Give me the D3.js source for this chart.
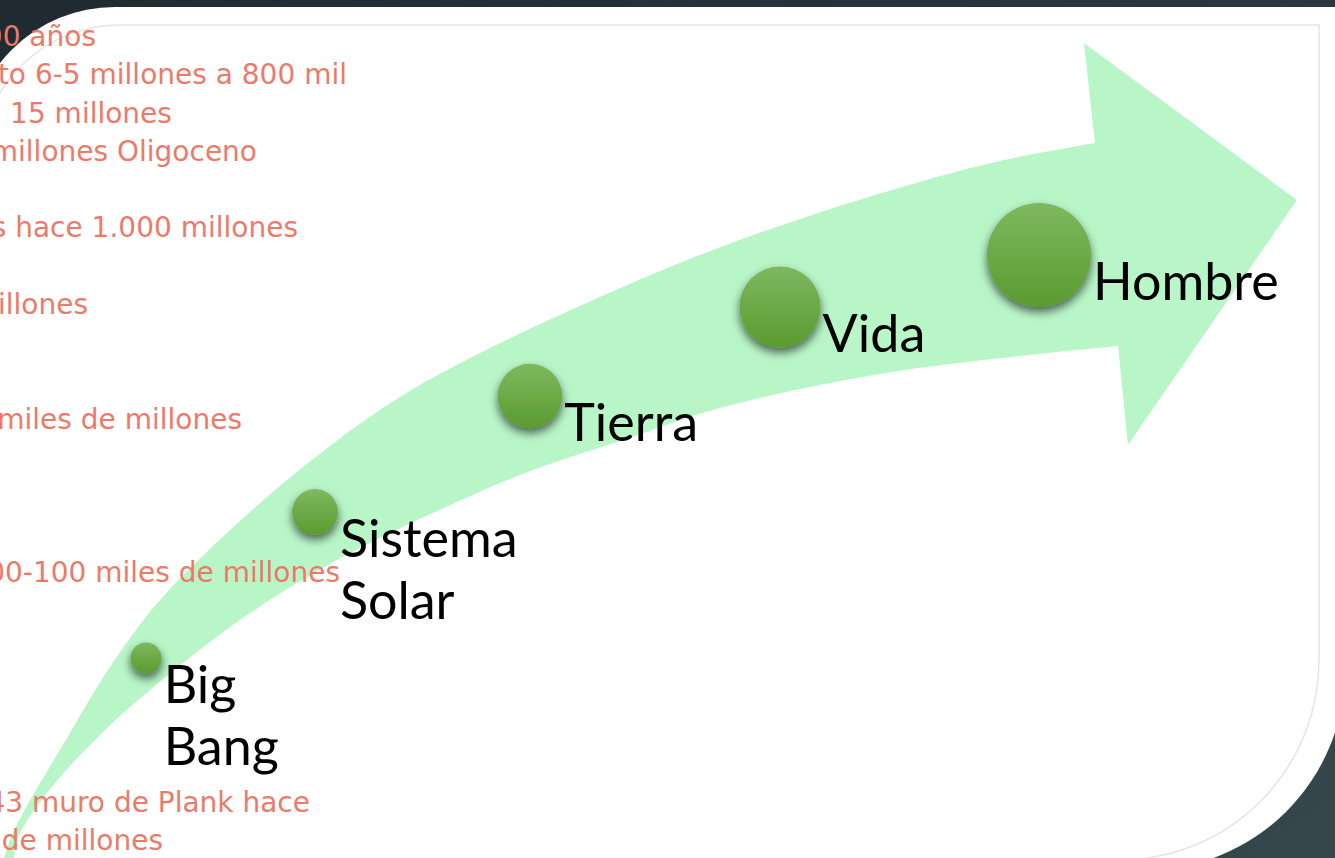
<!DOCTYPE html>
<html>
<head>
<meta charset="utf-8">
<script src="https://cdn.jsdelivr.net/npm/d3@7"></script>
<style>
  body { margin: 0; overflow: hidden; background: #242f37; }
  svg { display: block; }
</style>
</head>
<body>
<svg class="slide" width="1335" height="858"></svg>
<script>
// etapas del universo (circulos + etiquetas)
var etapas = ["Big Bang", "Sistema Solar", "Tierra", "Vida", "Hombre"];
var etapaX = [10.94, 23.6, 39.7, 58.43, 77.83];   // % del ancho
var etapaY = [23.31, 40.33, 53.85, 64.22, 70.28]; // % de la altura (desde abajo)
var etapaTam = [3.0, 4.4, 6.2, 7.8, 10];          // tamano relativo

// flecha curva: borde superior (cola -> muesca), punta, borde inferior (muesca -> cola)
var flechaSupX = [0.15, 0.97, 5.24, 8.24, 11.99, 18.73, 24.72, 29.96, 35.96, 44.94, 52.43, 61.05, 69.66, 74.91, 82.02];
var flechaSupY = [-0.93, 2.91, 14.57, 22.26, 30.07, 40.33, 48.02, 53.73, 58.86, 65.38, 70.28, 75.06, 79.14, 81.24, 83.33];
var puntaX = [81.2, 97.15, 84.49, 83.75];
var puntaY = [94.99, 76.69, 48.14, 59.67];
var flechaInfX = [83.75, 66.82, 53.93, 46.67, 39.93, 32.58, 25.24, 17.98, 11.24, 7.49, 3.52, 1.27, 1.05];
var flechaInfY = [59.67, 56.64, 52.45, 48.72, 45.22, 40.33, 34.73, 27.74, 19.58, 14.34, 7.58, 2.1, -0.93];

// notas (texto recortado a la izquierda)
var notas = [
  "00 años",
  "to 6-5 millones a 800 mil",
  "15 millones",
  "millones Oligoceno",
  "s hace 1.000 millones",
  "illones",
  "miles de millones",
  "00-100 miles de millones",
  "43 muro de Plank hace",
  "de millones"
];
var notaLinea = [0, 1, 2, 3, 5, 7, 10, 14, 20, 21];
var notaFin = [7.19, 25.99, 12.88, 19.25, 22.32, 6.59, 18.13, 25.47, 23.22, 12.21];

var svg = d3.select(".slide"),
  width = +svg.attr("width"),
  height = +svg.attr("height");

var x = d3.scaleLinear().domain([0, 100]).range([0, width]);
var y = d3.scaleLinear().domain([0, 100]).range([height, 0]);
var r = d3.scaleLinear().domain([0, 10]).range([0, 52]);
var linea = d3.scaleLinear().domain([0, 21]).range([46, 850]);

var defs = svg.append("defs");

var bg = defs.append("linearGradient").attr("id", "bg")
  .attr("x1", 0).attr("y1", 0).attr("x2", 1).attr("y2", 1);
bg.append("stop").attr("offset", 0).attr("stop-color", "#1f2a31");
bg.append("stop").attr("offset", 1).attr("stop-color", "#35474d");

var bola = defs.append("linearGradient").attr("id", "bola")
  .attr("x1", 0).attr("y1", 0).attr("x2", 0).attr("y2", 1);
bola.append("stop").attr("offset", 0).attr("stop-color", "#7fb860");
bola.append("stop").attr("offset", 1).attr("stop-color", "#5a9b2f");

defs.append("filter").attr("id", "sombra")
  .attr("x", "-50%").attr("y", "-50%").attr("width", "200%").attr("height", "200%")
  .append("feDropShadow")
  .attr("dx", 0).attr("dy", 5)
  .attr("stdDeviation", 5)
  .attr("flood-color", "#000")
  .attr("flood-opacity", 0.6);

// fondo oscuro
svg.append("rect").attr("width", width).attr("height", height).attr("fill", "url(#bg)");

// panel blanco con esquinas redondeadas (sup-izq e inf-der)
function panel(xl, yt, xr, yb, r1, r2) {
  var p = d3.path();
  p.moveTo(xl, yt + r1);
  p.arcTo(xl, yt, xl + r1, yt, r1);
  p.lineTo(xr, yt);
  p.lineTo(xr, yb - r2);
  p.arcTo(xr, yb, xr - r2, yb, r2);
  p.lineTo(xl, yb);
  p.closePath();
  return p.toString();
}

svg.append("path")
  .attr("d", panel(-31, 7, 1345, 870, 146, 200))
  .attr("fill", "#fff");

svg.append("path")
  .attr("d", panel(-20, 25, 1319, 860, 140, 200))
  .attr("fill", "none")
  .attr("stroke", "#e4e4e4")
  .attr("stroke-width", 1.5);

// flecha
var curva = d3.line().curve(d3.curveCatmullRom.alpha(0.5));
var sup = flechaSupX.map(function (d, i) { return [x(d), y(flechaSupY[i])]; });
var inf = flechaInfX.map(function (d, i) { return [x(d), y(flechaInfY[i])]; });
var dFlecha = curva(sup);
puntaX.forEach(function (d, i) {
  dFlecha += "L" + x(d) + "," + y(puntaY[i]);
});
dFlecha += curva(inf).replace(/^M/, "L") + "Z";

svg.append("path")
  .attr("d", dFlecha)
  .attr("fill", "#b8f6c7");

// notas en salmon
svg.append("g")
  .attr("font-family", "'DejaVu Sans', sans-serif")
  .attr("font-size", 28)
  .attr("fill", "#ec7a68")
  .attr("text-anchor", "end")
  .selectAll("text")
  .data(notas)
  .enter()
  .append("text")
  .attr("x", function (d, i) { return x(notaFin[i]); })
  .attr("y", function (d, i) { return linea(notaLinea[i]); })
  .text(function (d) { return d; });

// circulos
var g = svg.append("g")
  .selectAll("g")
  .data(etapas)
  .enter()
  .append("g");

g.append("circle")
  .attr("cx", function (d, i) { return x(etapaX[i]); })
  .attr("cy", function (d, i) { return y(etapaY[i]); })
  .attr("r", function (d, i) { return r(etapaTam[i]); })
  .attr("fill", "url(#bola)")
  .attr("filter", "url(#sombra)");

g.append("text")
  .attr("font-family", "Lato, sans-serif")
  .attr("font-size", 52)
  .attr("fill", "#000")
  .attr("y", function (d, i) { return y(etapaY[i]) + 45; })
  .selectAll("tspan")
  .data(function (d, i) {
    return d.split(" ").map(function (w) { return { w: w, i: i }; });
  })
  .enter()
  .append("tspan")
  .attr("x", function (d) { return x(etapaX[d.i]) + r(etapaTam[d.i]) + 2; })
  .attr("dy", function (d, j) { return j ? 62 : 0; })
  .text(function (d) { return d.w; });
</script>
</body>
</html>
